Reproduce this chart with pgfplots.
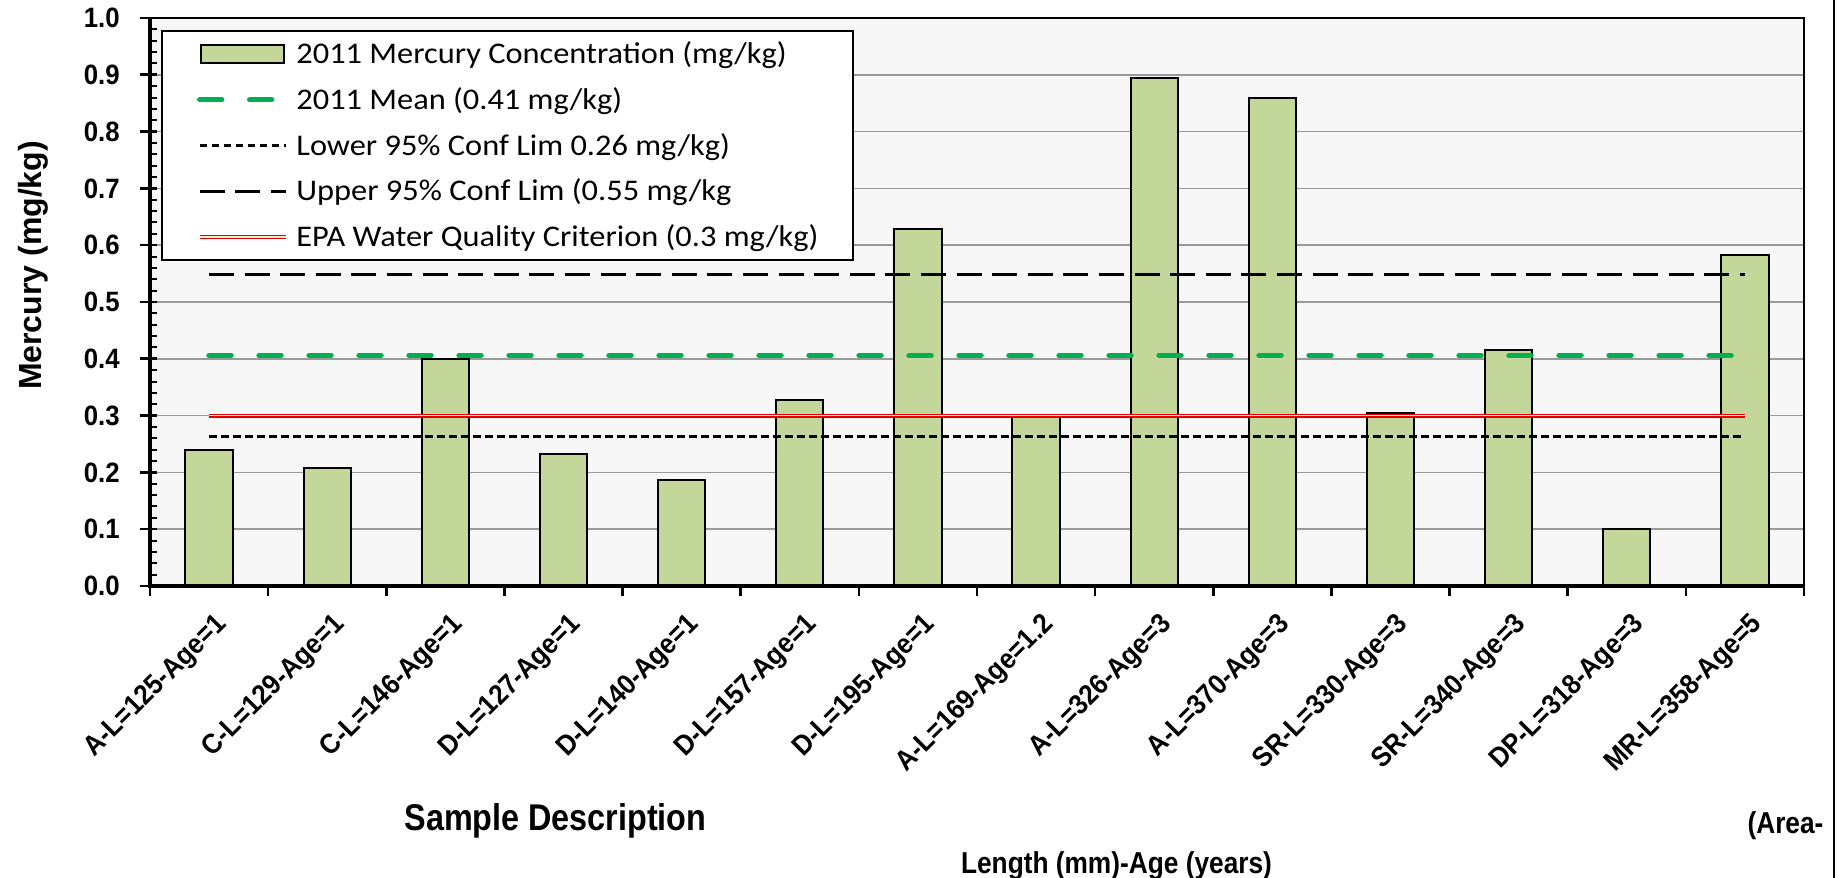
\documentclass[border=0pt]{standalone}
\usepackage{fontspec}
\setmainfont{Liberation Sans}
\newfontfamily\narrowsans[FakeStretch=0.87]{Liberation Sans}
\newfontfamily\ticksans[FakeStretch=0.92]{Liberation Sans}
\newfontfamily\legendfont[FakeStretch=1.08]{Carlito}
\usepackage{pgfplots}
\pgfplotsset{compat=1.18}

\definecolor{barfill}{HTML}{C4D79B}
\definecolor{plotbg}{HTML}{F7F7F7}
\definecolor{gridgray}{HTML}{9A9A9A}
\definecolor{meangreen}{HTML}{00B050}
\definecolor{epared}{HTML}{E00000}
\definecolor{epainner}{HTML}{F6EFC8}

\newcommand{\tickfont}{\ticksans\bfseries\fontsize{14}{16}\selectfont}

\pgfplotsset{
  rule legend/.style={legend image code/.code={\draw[##1] (0pt,0pt) -- (43pt,0pt);}},
  box legend/.style={legend image code/.code={\draw[##1] (0.5pt,-4.3pt) rectangle (42pt,4.3pt);}},
}

\begin{document}
\begin{tikzpicture}
\begin{axis}[
  name=main, at={(0pt,0pt)}, anchor=south west,
  scale only axis, width=827pt, height=284pt,
  xmin=0.5, xmax=14.5, ymin=0, ymax=1,
  clip=false,
  axis background/.style={fill=plotbg},
  axis line style={line width=0.8pt, black},
  xtick pos=bottom, ytick pos=left,
  tick align=outside, major tick length=5pt,
  tick style={black, line width=1.3pt},
  xtick={0.5,1.5,...,14.5}, xticklabels={},
  extra x ticks={1,2,...,14},
  extra x tick labels={{A-L=125-Age=1},{C-L=129-Age=1},{C-L=146-Age=1},{D-L=127-Age=1},
    {D-L=140-Age=1},{D-L=157-Age=1},{D-L=195-Age=1},{A-L=169-Age=1.2},{A-L=326-Age=3},
    {A-L=370-Age=3},{SR-L=330-Age=3},{SR-L=340-Age=3},{DP-L=318-Age=3},{MR-L=358-Age=5}},
  extra x tick style={major tick length=0pt, tick style={draw=none},
    xticklabel style={font=\tickfont, inner sep=0pt, xshift=6.8pt, yshift=-17pt, rotate=45, anchor=east}},
  ytick={0,0.1,0.2,0.3,0.4,0.5,0.6,0.7,0.8,0.9,1.0},
  yticklabel style={font=\tickfont, inner sep=0pt, xshift=-10pt,
    /pgf/number format/fixed, /pgf/number format/precision=1,
    /pgf/number format/fixed zerofill, /pgf/number format/assume math mode=true},
  ymajorgrids, major grid style={gridgray, line width=0.8pt},
  ylabel={Mercury (mg/kg)},
  ylabel style={at={(axis description cs:-0.0707,0.5643)}, anchor=center,
    font=\bfseries\fontsize{16}{18}\selectfont},
  legend style={
    at={(axis description cs:0.00665,0.9789)}, anchor=north west,
    draw=black, line width=1pt, fill=white,
    inner xsep=17.5pt, inner ysep=4.5pt,
    row sep=8.9pt, column sep=4pt,
    font=\legendfont\fontsize{15}{18}\selectfont,
    nodes={inner sep=0pt, text height=11.75pt, text depth=2.25pt},
    cells={anchor=west},
  },
]

% measured mercury concentrations, one bar per fish sample
\addplot[ybar, bar width=0.4, bar shift=0pt, fill=barfill, draw=black, line width=1pt, box legend]
  coordinates {(1,0.240) (2,0.207) (3,0.399) (4,0.232) (5,0.186) (6,0.327) (7,0.628)
               (8,0.300) (9,0.895) (10,0.859) (11,0.304) (12,0.416) (13,0.100) (14,0.582)};
\addlegendentry{2011 Mercury Concentration (mg/kg)}

% reference levels across the sample range
\addplot[meangreen, line width=2.7pt, line cap=round, dash pattern=on 11pt off 14pt, rule legend]
  coordinates {(1,0.406) (14,0.406)};
\addlegendentry{2011 Mean (0.41 mg/kg)}

\addplot[black, line width=1.5pt, dash pattern=on 3.8pt off 2.2pt, rule legend]
  coordinates {(1,0.264) (14,0.264)};
\addlegendentry{Lower 95\% Conf Lim 0.26 mg/kg)}

\addplot[black, line width=1.5pt, dash pattern=on 12.5pt off 5.3pt, rule legend]
  coordinates {(1,0.548) (14,0.548)};
\addlegendentry{Upper 95\% Conf Lim (0.55 mg/kg}

\addplot[draw=epared, line width=0.6pt, double=epainner, double distance=0.8pt, rule legend]
  coordinates {(1,0.300) (14,0.300)};
\addlegendentry{EPA Water Quality Criterion (0.3 mg/kg)}

% heavier left and bottom axis lines
\draw[black, line width=1.6pt] (rel axis cs:0,1) -- (rel axis cs:0,0) -- (rel axis cs:1,0);
\end{axis}

% inward major and minor ticks on the value axis
\begin{axis}[
  at={(0pt,0pt)}, anchor=south west,
  scale only axis, width=827pt, height=284pt,
  xmin=0.5, xmax=14.5, ymin=0, ymax=1,
  axis line style={draw=none},
  xtick=\empty, ytick pos=left,
  ytick={0,0.1,0.2,0.3,0.4,0.5,0.6,0.7,0.8,0.9,1.0}, yticklabels={},
  minor y tick num=4,
  tick align=inside, major tick length=3.5pt, minor tick length=3.5pt,
  major tick style={black, line width=1.3pt},
  minor tick style={black, line width=1pt},
]
\end{axis}

% axis title pieces below the category labels
\node[anchor=base, font=\narrowsans\bfseries\fontsize{18.6}{21}\selectfont]
  at (202.75pt,-122pt) {Sample Description};
\node[anchor=base, font=\narrowsans\bfseries\fontsize{15.1}{18}\selectfont]
  at (817.75pt,-123.5pt) {(Area-};
\node[anchor=base, font=\narrowsans\bfseries\fontsize{15.1}{18}\selectfont]
  at (483.25pt,-143.5pt) {Length (mm)-Age (years)};

% outer frame edge on the right
\draw[black, line width=1pt] (842pt,-146pt) -- (842pt,293pt);

\pgfresetboundingbox
\path[use as bounding box] (-75pt,-146pt) rectangle (843.5pt,293pt);
\end{tikzpicture}
\end{document}
